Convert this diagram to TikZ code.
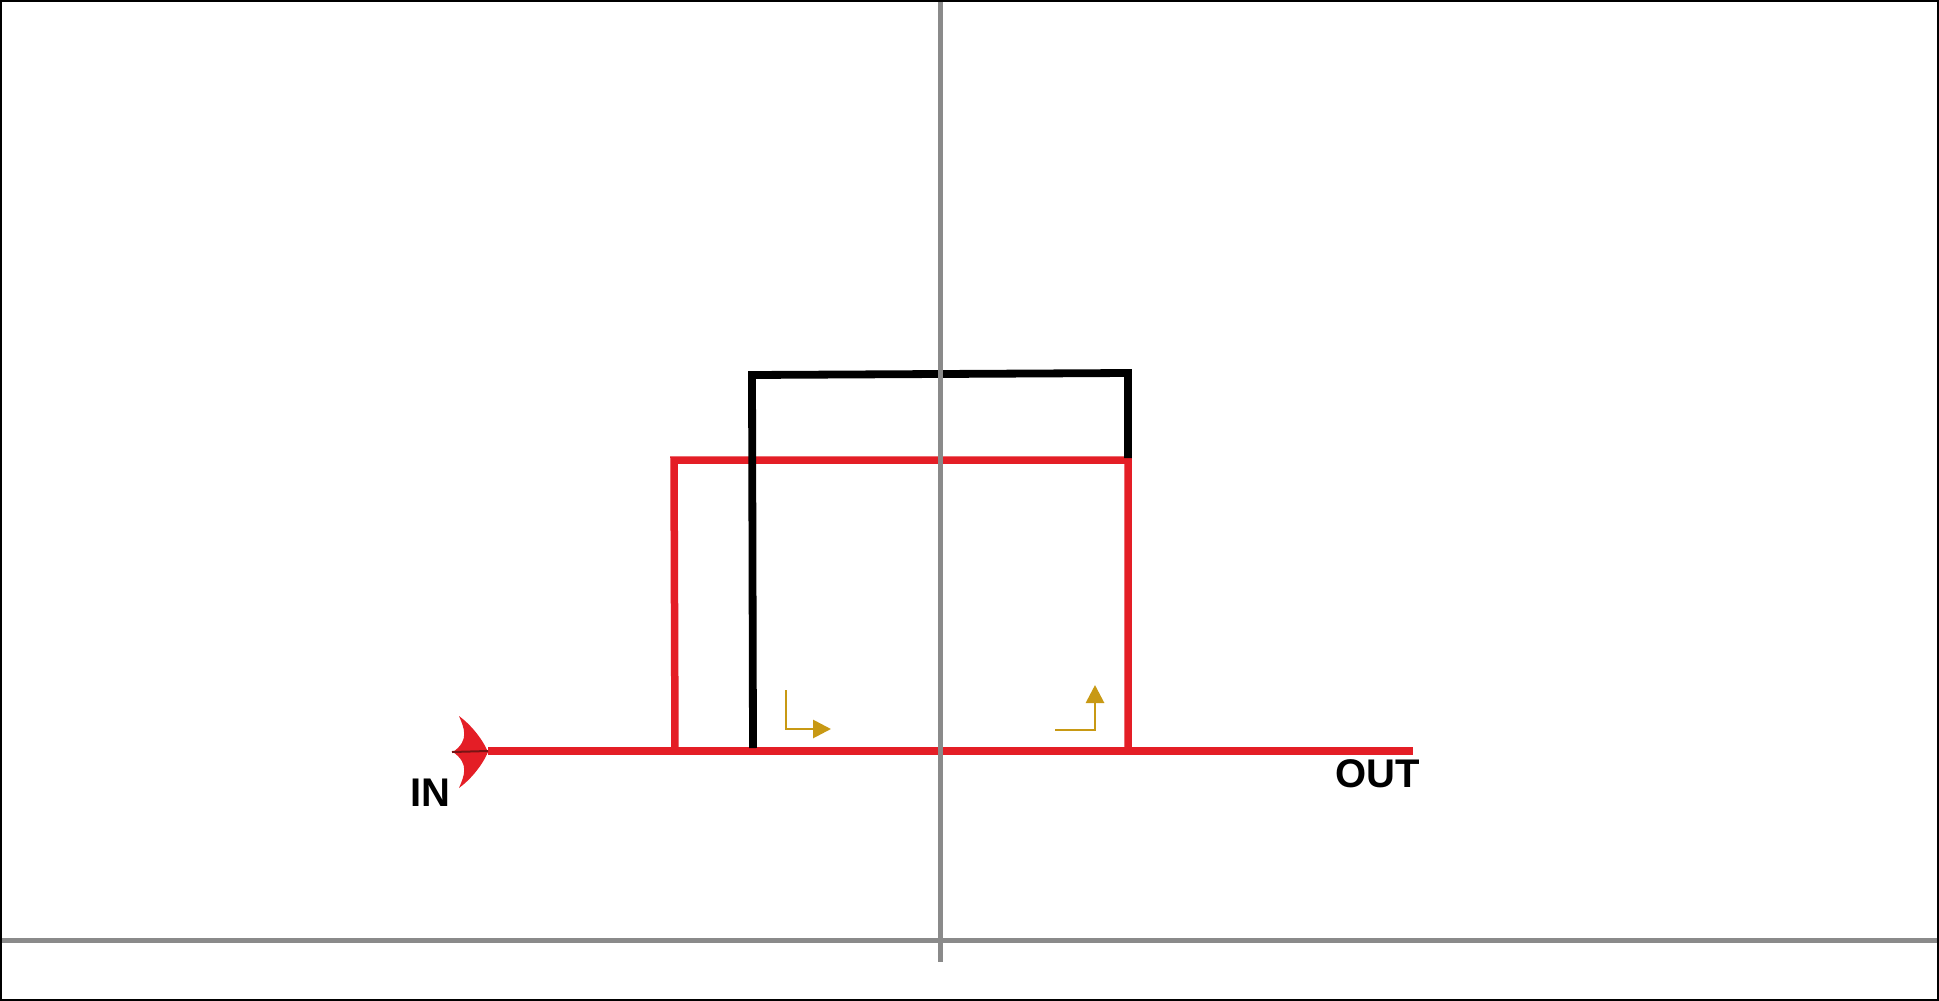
\documentclass[tikz,border=0pt]{standalone}
\usepackage{fontspec}
\setmainfont{Liberation Sans}
\usetikzlibrary{arrows.meta}
\definecolor{redline}{RGB}{228,30,38}
\definecolor{axisgray}{RGB}{138,138,138}
\definecolor{gold}{RGB}{200,153,20}
\definecolor{darkred}{RGB}{120,20,20}
\tikzset{
  redpath/.style={draw=redline, line width=3.75pt, line join=miter},
  blackpath/.style={draw=black, line width=3.9pt, line join=miter},
  axis/.style={draw=axisgray, line width=2.5pt},
  goldarrow/.style={draw=gold, line width=1.4pt, -{Triangle[length=9pt,width=9pt]}, line join=miter},
  label/.style={font=\fontsize{20}{24}\selectfont\bfseries, inner sep=0pt, text=black}
}
\begin{document}
\begin{tikzpicture}[x=0.5pt,y=-0.5pt]
\useasboundingbox (0,0) rectangle (1939,1001);
\fill[white] (0,0) rectangle (1939,1001);
% coordinates
\coordinate (inTip) at (488,751);
\coordinate (outEnd) at (1413,751);
\coordinate (rBL) at (675,751);
\coordinate (rTL) at (674,460);
\coordinate (rTR) at (1128,460);
\coordinate (rBR) at (1128,751);
\coordinate (bBL) at (753,748);
\coordinate (bTL) at (752,375);
\coordinate (bTR) at (1128,373);
\coordinate (bR) at (1128,458);
\coordinate (vTop) at (940,0);
\coordinate (vBot) at (940,962);
\coordinate (hL) at (0,940);
\coordinate (hR) at (1939,940);
% red line and rectangle
\draw[redpath] (inTip) -- (outEnd);
\draw[redpath] (rBL) -- (rTL) -- (rTR) -- (rBR);
% black path
\draw[blackpath] (bBL) -- (bTL) -- (bTR) -- (bR);
% IN arrow head
\fill[redline] (488,752) .. controls (482,738) and (470,724) .. (459,716)
  .. controls (464,728) and (470,740) .. (453,752)
  .. controls (470,764) and (464,776) .. (459,788)
  .. controls (470,780) and (482,766) .. (488,752) -- cycle;
\draw[darkred, line width=1pt] (452,752) -- (inTip);
% gold arrows
\coordinate (g1a) at (786,690);
\coordinate (g1b) at (786,729);
\coordinate (g1c) at (831,729);
\draw[goldarrow] (g1a) -- (g1b) -- (g1c);
\coordinate (g2a) at (1055,730);
\coordinate (g2b) at (1095,730);
\coordinate (g2c) at (1095,685);
\draw[goldarrow] (g2a) -- (g2b) -- (g2c);
% axes
\draw[axis] (vTop) -- (vBot);
\draw[axis] (hL) -- (hR);
% labels
\node[label] (inlbl) at (430,793) {IN};
\node[label] (outlbl) at (1378,774) {OUT};
% border
\draw[black, line width=1pt] (1,1) rectangle (1938,1000);
\end{tikzpicture}
\end{document}
